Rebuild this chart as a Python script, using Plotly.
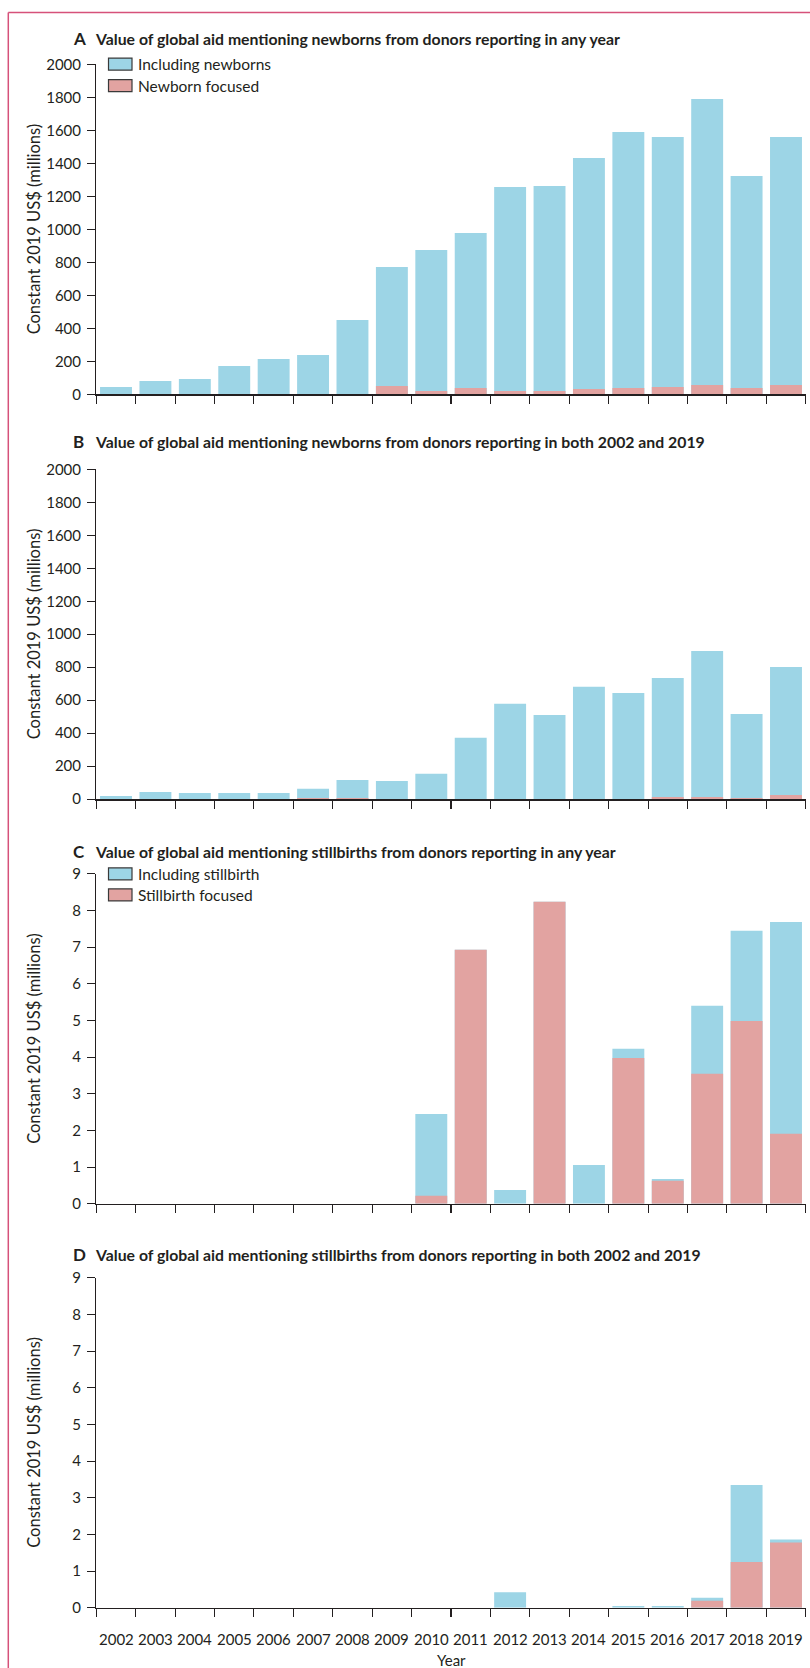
import plotly.graph_objects as go

years = ["2002", "2003", "2004", "2005", "2006", "2007", "2008", "2009", "2010",
         "2011", "2012", "2013", "2014", "2015", "2016", "2017", "2018", "2019"]

A_including = [44, 81, 93, 172, 214, 238, 450, 772, 875, 978, 1256, 1263, 1432, 1590, 1560, 1790, 1323, 1560]
A_focused = [0, 0, 0, 0, 0, 0, 0, 50, 20, 38, 20, 20, 32, 38, 44, 57, 38, 57]

B_including = [20, 44, 38, 38, 38, 63, 117, 111, 154, 372, 578, 511, 681, 644, 735, 899, 517, 802]
B_focused = [0, 0, 0, 0, 0, 8, 8, 0, 0, 0, 0, 0, 0, 0, 14, 14, 8, 26]

C_including = [0, 0, 0, 0, 0, 0, 0, 0, 2.45, 6.93, 0.38, 8.24, 1.06, 4.23, 0.68, 5.40, 7.45, 7.69]
C_focused = [0, 0, 0, 0, 0, 0, 0, 0, 0.22, 6.93, 0, 8.24, 0, 3.98, 0.63, 3.55, 4.99, 1.91]

D_including = [0, 0, 0, 0, 0, 0, 0, 0, 0, 0, 0.42, 0, 0, 0.05, 0.05, 0.27, 3.35, 1.86]
D_focused = [0, 0, 0, 0, 0, 0, 0, 0, 0, 0, 0, 0, 0, 0, 0, 0.19, 1.25, 1.78]

titles = [
    ("A", "Value of global aid mentioning newborns from donors reporting in any year"),
    ("B", "Value of global aid mentioning newborns from donors reporting in both 2002 and 2019"),
    ("C", "Value of global aid mentioning stillbirths from donors reporting in any year"),
    ("D", "Value of global aid mentioning stillbirths from donors reporting in both 2002 and 2019"),
]
legend_newborn = ["Including newborns", "Newborn focused"]
legend_still = ["Including stillbirth", "Stillbirth focused"]

BLUE = "#9DD5E6"
RED = "#E2A3A1"
INK = "#231F20"
FRAME = "#D6517A"
FONT = "Lato"

W, H = 810, 1676
# compensation for the capture's vertical offset / scale
V_OFF, V_SCALE = 9.9, 0.9895

def py(px):
    return 1 - ((px - V_OFF) / V_SCALE) / H

def pxx(px):
    return px / W

# plot area pixel geometry (top, bottom) for each panel (target picture pixels)
panels = [(64.3, 394.3), (469.3, 799.3), (874.0, 1204.0), (1278.0, 1608.0)]
title_y = [38.3, 441.7, 851.5, 1255.0]
x_left, x_right = 96.3, 805.7

series = [(A_including, A_focused, 2000, 200),
          (B_including, B_focused, 2000, 200),
          (C_including, C_focused, 9, 1),
          (D_including, D_focused, 9, 1)]

fig = go.Figure()
layout = dict(
    width=W, height=H, autosize=False,
    margin=dict(l=0, r=0, t=0, b=0),
    paper_bgcolor="white", plot_bgcolor="white",
    barmode="overlay", bargap=0.19,
    showlegend=False,
    font=dict(family=FONT, size=15, color=INK),
)

annotations = []
shapes = []

for i, ((inc, foc, ymax, dt), (top, bot)) in enumerate(zip(series, panels)):
    n = "" if i == 0 else str(i + 1)
    xa, ya = "x" + n, "y" + n
    fig.add_trace(go.Bar(x=years, y=inc, marker=dict(color=BLUE, line=dict(width=0)),
                         xaxis=xa, yaxis=ya, name="including", hoverinfo="skip"))
    fig.add_trace(go.Bar(x=years, y=foc, marker=dict(color=RED, line=dict(width=0)),
                         xaxis=xa, yaxis=ya, name="focused", hoverinfo="skip"))
    layout["xaxis" + n] = dict(
        domain=[pxx(x_left), pxx(x_right)], anchor=ya, type="category",
        range=[-0.5, 17.5], showline=True, linecolor=INK, linewidth=1.3,
        ticks="outside", tickson="boundaries", ticklen=8, tickwidth=1.1, tickcolor=INK,
        showgrid=False, zeroline=False, showticklabels=False,
    )
    layout["yaxis" + n] = dict(
        domain=[py(bot), py(top)], anchor=xa, range=[0, ymax], dtick=dt, tick0=0,
        showline=True, linecolor=INK, linewidth=1.3,
        ticks="outside", ticklen=8, tickwidth=1.1, tickcolor=INK,
        ticklabelstandoff=3,
        showgrid=False, zeroline=False,
        tickfont=dict(family=FONT, size=15, color=INK),
    )
    # y axis title
    annotations.append(dict(
        xref="paper", yref="paper", x=pxx(34), y=py((top + bot) / 2),
        text="Constant 2019 US$ (millions)", textangle=-90, showarrow=False,
        xanchor="center", yanchor="middle",
        font=dict(family=FONT, size=16.5, color=INK),
    ))
    # panel title
    letter, ttl = titles[i]
    annotations.append(dict(
        xref="paper", yref="paper", x=pxx(71), y=py(title_y[i]),
        text="<b>" + letter + "</b>", showarrow=False, xanchor="left", yanchor="middle",
        font=dict(family=FONT, size=17, color=INK),
    ))
    annotations.append(dict(
        xref="paper", yref="paper", x=pxx(93), y=py(title_y[i]),
        text="<b>" + ttl + "</b>", showarrow=False, xanchor="left", yanchor="middle",
        font=dict(family=FONT, size=15.8, color=INK),
    ))

# year tick labels under the bottom panel, placed on the category axis (by category index)
for idx, yr in enumerate(years):
    annotations.append(dict(
        xref="x4", yref="paper", x=idx, y=py(1639),
        text=yr, showarrow=False, xanchor="center", yanchor="middle",
        font=dict(family=FONT, size=15, color=INK),
    ))

# manual legends for panels A and C
for labels, (c1, c2) in [(legend_newborn, (64.0, 85.5)), (legend_still, (874.0, 895.0))]:
    for lab, col, cy in [(labels[0], BLUE, c1), (labels[1], RED, c2)]:
        shapes.append(dict(
            type="rect", xref="paper", yref="paper",
            x0=pxx(108.5), x1=pxx(132), y0=py(cy + 6), y1=py(cy - 6),
            fillcolor=col, line=dict(color="#3a3a3a", width=1.2),
        ))
        annotations.append(dict(
            xref="paper", yref="paper", x=pxx(136), y=py(cy),
            text=lab, showarrow=False, xanchor="left", yanchor="middle",
            font=dict(family=FONT, size=15.5, color=INK),
        ))

# x axis title
annotations.append(dict(
    xref="paper", yref="paper", x=pxx((x_left + x_right) / 2), y=py(1660.5),
    text="Year", showarrow=False, xanchor="center", yanchor="middle",
    font=dict(family=FONT, size=15, color=INK),
))

# pink frame (top and left)
shapes.append(dict(type="line", xref="paper", yref="paper",
                   x0=pxx(8.3), x1=1.0, y0=py(12.3), y1=py(12.3),
                   line=dict(color=FRAME, width=1.5)))
shapes.append(dict(type="line", xref="paper", yref="paper",
                   x0=pxx(8.3), x1=pxx(8.3), y0=py(12.3), y1=0,
                   line=dict(color=FRAME, width=1.5)))

layout["annotations"] = annotations
layout["shapes"] = shapes
fig.update_layout(**layout)

fig.write_html(
    "out.html",
    config={"displayModeBar": False, "staticPlot": True},
    post_script=(
        "document.documentElement.style.margin='0px';"
        "document.documentElement.style.padding='0px';"
        "document.documentElement.style.overflow='hidden';"
        "document.body.style.margin='0px';"
        "document.body.style.padding='0px';"
        "document.body.style.overflow='hidden';"
        "window.scrollTo(0,0);"
    ),
)
